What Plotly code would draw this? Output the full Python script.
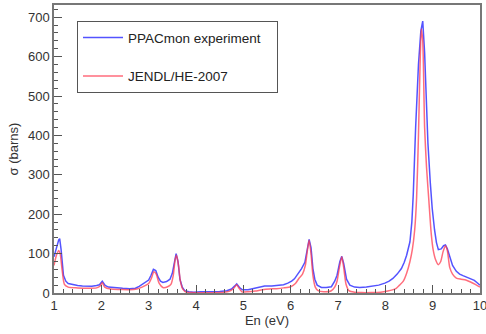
import plotly.graph_objects as go

# Experimental data (PPACmon)
E_exp = [1.00,1.05,1.10,1.12,1.15,1.20,1.25,1.30,1.40,1.50,1.60,1.70,1.80,1.90,1.96,2.02,2.08,2.15,2.30,2.45,
         2.60,2.72,2.80,2.86,2.93,3.00,3.05,3.10,3.15,3.20,3.25,3.30,3.38,3.45,3.50,3.55,3.58,3.62,3.66,3.71,
         3.76,3.85,3.95,4.10,4.30,4.50,4.65,4.75,4.82,4.86,4.92,4.98,5.10,5.24,5.35,5.45,5.60,5.73,5.85,5.94,
         6.02,6.08,6.15,6.23,6.30,6.35,6.39,6.43,6.47,6.51,6.56,6.65,6.75,6.86,6.93,6.98,7.04,7.08,7.12,7.18,
         7.25,7.35,7.46,7.60,7.74,7.86,7.99,8.08,8.16,8.25,8.34,8.40,8.45,8.52,8.56,8.59,8.64,8.70,8.75,8.79,
         8.83,8.87,8.90,8.95,8.99,9.04,9.08,9.12,9.18,9.23,9.27,9.31,9.36,9.42,9.50,9.57,9.64,9.72,9.80,9.88,
         9.94,10.00]
sigma_exp = [92,115,135,138,110,45,30,24,21,19,18,18,17,19,21,30,19,15,13,12,
             11,12,17,22,26,33,45,60,57,40,30,27,29,35,50,85,100,80,35,15,
             6,3,2,3,3,4,6,10,18,23,14,8,8,12,15,18,18,19,21,25,
             30,36,48,62,78,110,136,115,62,35,20,14,14,16,30,45,80,93,75,35,
             20,15,14,15,18,20,25,30,37,48,62,78,96,130,180,250,420,580,665,690,
             610,470,380,280,215,160,128,110,112,120,122,112,90,70,55,48,44,40,35,32,
             26,20]

# Evaluated data (JENDL/HE-2007)
E_eval = [1.00,1.05,1.10,1.13,1.17,1.22,1.30,1.50,1.70,1.90,1.97,2.02,2.07,2.20,2.40,2.60,2.75,2.86,3.00,3.06,
          3.11,3.16,3.22,3.30,3.40,3.47,3.52,3.56,3.59,3.63,3.67,3.72,3.80,3.90,4.20,4.50,4.70,4.80,4.86,4.91,
          4.97,5.10,5.25,5.40,5.55,5.70,5.85,6.00,6.10,6.18,6.25,6.31,6.35,6.39,6.43,6.47,6.52,6.58,6.70,6.85,
          6.93,6.98,7.03,7.08,7.12,7.17,7.23,7.35,7.50,7.70,7.90,8.05,8.15,8.23,8.30,8.38,8.45,8.52,8.57,8.62,
          8.66,8.70,8.73,8.76,8.79,8.83,8.87,8.92,8.97,9.01,9.06,9.12,9.17,9.22,9.27,9.31,9.36,9.42,9.50,9.60,
          9.70,9.80,9.90,10.00]
sigma_eval = [70,95,108,100,60,22,15,13,12,13,17,26,15,10,9,8,10,15,24,38,
              54,48,25,14,16,22,45,85,96,70,30,10,2,1,0.5,1,4,12,21,12,
              3,3,5,8,10,11,13,16,24,38,48,70,105,134,100,45,15,6,3,5,
              15,30,65,92,65,22,6,2,1,1,2,5,8,12,20,30,50,80,110,160,
              240,400,560,670,640,420,320,234,150,110,85,72,80,105,120,108,65,48,38,35,
              33,28,22,15]

x_ticks = [1, 2, 3, 4, 5, 6, 7, 8, 9, 10]
y_ticks = [0, 100, 200, 300, 400, 500, 600, 700]

NB = "\u00a0"

fig = go.Figure()
fig.add_trace(go.Scatter(x=E_exp, y=sigma_exp, mode="lines", name="PPACmon experiment" + NB * 3,
                         legendgroup="a",
                         line=dict(color="rgba(40,40,255,0.8)", width=1.5)))
fig.add_trace(go.Scatter(x=E_eval, y=sigma_eval, mode="lines", name="JENDL/HE-2007",
                         legendgroup="b",
                         line=dict(color="rgba(255,60,80,0.75)", width=1.5, shape="spline", smoothing=0.6)))

axis_common = dict(showline=True, linecolor="#777", linewidth=1.5, mirror=True,
                   ticks="inside", tickcolor="#555", showgrid=False, zeroline=False,
                   tickfont=dict(size=13, color="#333"))
fig.update_xaxes(range=[1, 10], tickvals=x_ticks, ticklen=8, ticklabeloverflow="allow",
                 minor=dict(ticks="inside", dtick=0.2, ticklen=4, tickcolor="#555"),
                 title=dict(text="En (eV)", font=dict(size=13, color="#333"), standoff=4),
                 **axis_common)
fig.update_yaxes(range=[0, 731], tickvals=y_ticks, ticklen=8,
                 minor=dict(ticks="inside", dtick=20, ticklen=4, tickcolor="#555"),
                 title=dict(text="σ (barns)", font=dict(size=13, color="#333"), standoff=6),
                 **axis_common)

fig.update_layout(
    width=486, height=334,
    margin=dict(l=54, r=6, t=5, b=41, autoexpand=False),
    paper_bgcolor="white", plot_bgcolor="white",
    font=dict(family="Liberation Sans, Arial, sans-serif", size=12, color="#333"),
    legend=dict(x=0.054, y=0.944, xanchor="left", yanchor="top",
                bgcolor="white", bordercolor="#555", borderwidth=1,
                font=dict(size=13.5, color="#222"), tracegroupgap=18,
                traceorder="grouped", itemwidth=40),
    showlegend=True,
)

fig.write_html("out.html", config={"displayModeBar": False},
               post_script="document.body.style.margin='0';")
